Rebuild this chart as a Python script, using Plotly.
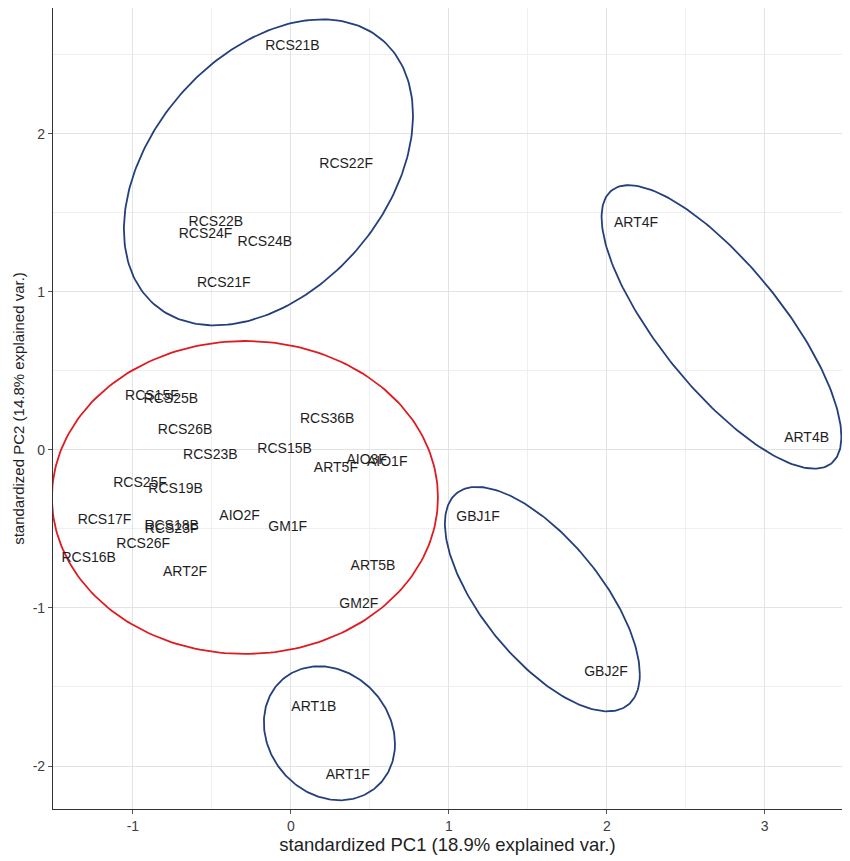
import numpy as np
import plotly.graph_objects as go

# Sample labels and PCA scores (standardized PC1, PC2)
labels = ["RCS21B", "RCS22F", "RCS22B", "RCS24F", "RCS24B", "RCS21F",
          "RCS15F", "RCS25B", "RCS26B", "RCS36B", "RCS23B", "RCS15B",
          "AIO3F", "AIO1F", "ART5F", "RCS25F", "RCS19B", "AIO2F", "GM1F",
          "RCS17F", "RCS18B", "RCS23F", "RCS26F", "RCS16B", "ART2F",
          "ART5B", "GM2F", "GBJ1F", "GBJ2F", "ART1B", "ART1F", "ART4F", "ART4B"]
pc1 = [0.01, 0.35, -0.475, -0.54, -0.165, -0.425,
       -0.88, -0.76, -0.67, 0.23, -0.51, -0.04,
       0.48, 0.61, 0.285, -0.955, -0.73, -0.325, -0.02,
       -1.18, -0.755, -0.755, -0.935, -1.28, -0.67,
       0.52, 0.43, 1.185, 1.995, 0.145, 0.36, 2.185, 3.265]
pc2 = [2.55, 1.805, 1.44, 1.365, 1.31, 1.05,
       0.335, 0.32, 0.125, 0.195, -0.035, 0.0,
       -0.065, -0.08, -0.12, -0.21, -0.25, -0.42, -0.49,
       -0.445, -0.485, -0.505, -0.6, -0.685, -0.775,
       -0.735, -0.98, -0.425, -1.41, -1.63, -2.06, 1.435, 0.075]

# Group ellipses: centre, half-extents along x / y, correlation, colour
ell_cx = [-0.142, -0.291, 2.726, 1.592, 0.244]
ell_cy = [1.756, -0.301, 0.778, -0.944, -1.793]
ell_hx = [0.915, 1.222, 0.759, 0.617, 0.415]
ell_hy = [0.968, 0.99, 0.897, 0.710, 0.424]
ell_r = [0.373, 0.0, -0.774, -0.671, -0.159]
ell_color = ["#233F7C", "#E01B1F", "#233F7C", "#233F7C", "#233F7C"]

# Tick labels
x_tick_vals = [-1, 0, 1, 2, 3]
x_tick_text = ["-1", "0", "1", "2", "3"]
y_tick_vals = [-2, -1, 0, 1, 2]
y_tick_text = ["-2", "-1", "0", "1", "2"]

fig = go.Figure()

t = np.linspace(0, 2 * np.pi, 241)
for cx, cy, hx, hy, r, col in zip(ell_cx, ell_cy, ell_hx, ell_hy, ell_r, ell_color):
    ex = cx + hx * np.cos(t)
    ey = cy + hy * (r * np.cos(t) + np.sqrt(1 - r * r) * np.sin(t))
    fig.add_trace(go.Scatter(x=ex, y=ey, mode="lines",
                             line=dict(color=col, width=1.8),
                             hoverinfo="skip", showlegend=False))

fig.add_trace(go.Scatter(x=pc1, y=pc2, mode="text", text=labels,
                         textposition="middle center",
                         textfont=dict(family="Liberation Sans, Arial", size=14, color="#1E1E1E"),
                         showlegend=False))

axis_common = dict(
    showgrid=True, gridcolor="#E3E3E3", gridwidth=1,
    minor=dict(showgrid=True, gridcolor="#EFEFEF", gridwidth=1, dtick=0.5),
    zeroline=False, showline=True, linecolor="#333333", linewidth=1.2, mirror=True,
    ticks="outside", ticklen=4, tickcolor="#555555", tickwidth=1,
    tickfont=dict(family="Liberation Sans, Arial", size=14, color="#3D3D3D"),
    automargin=False,
)

fig.update_layout(
    width=850, height=861,
    margin=dict(l=45, r=16, t=0, b=60),
    paper_bgcolor="white", plot_bgcolor="white",
    xaxis=dict(range=[-1.506, 3.489], tickmode="array",
               tickvals=x_tick_vals, ticktext=x_tick_text,
               title=dict(text="standardized PC1 (18.9% explained var.)",
                          font=dict(family="Liberation Sans, Arial", size=18.5, color="#1E1E1E"),
                          standoff=5),
               **axis_common),
    yaxis=dict(range=[-2.272, 2.796], tickmode="array",
               tickvals=y_tick_vals, ticktext=y_tick_text,
               title=dict(text="standardized PC2 (14.8% explained var.)",
                          font=dict(family="Liberation Sans, Arial", size=15, color="#1E1E1E"),
                          standoff=4),
               **axis_common),
)

fig.write_html("out.html")
